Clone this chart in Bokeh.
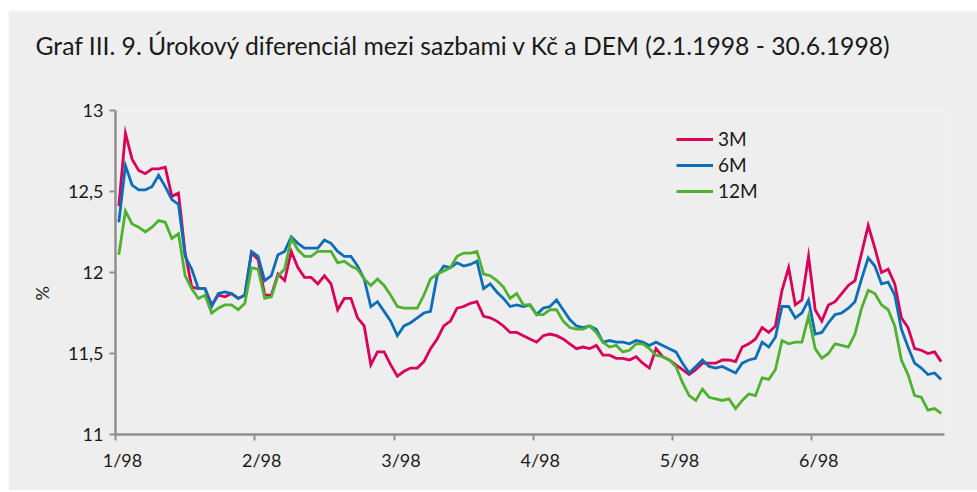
from bokeh.plotting import figure
from bokeh.models import (Range1d, LinearAxis, FixedTicker, Legend, Title,
                          LegendItem, CustomJSTickFormatter, ColumnDataSource)
from bokeh.embed import file_html
from bokeh.resources import INLINE

# ---------------- data (business days 2.1.1998 - 30.6.1998) ----------------
month_labels = ["1/98", "2/98", "3/98", "4/98", "5/98", "6/98"]
month_start_index = [0, 21, 42, 63, 84, 105]

m3 = [12.41, 12.86, 12.70, 12.63, 12.61, 12.64, 12.64, 12.65, 12.47, 12.49,
      12.12, 11.91, 11.90, 11.90, 11.80, 11.86, 11.85, 11.87, 11.84, 11.86,
      12.12, 12.08, 11.86, 11.86, 11.99,
      11.95, 12.13, 12.03, 11.97, 11.97, 11.93, 11.98, 11.93, 11.77, 11.84,
      11.84, 11.72, 11.67, 11.43, 11.51, 11.51, 11.43, 11.36, 11.39, 11.41,
      11.41, 11.45, 11.53, 11.59, 11.67,
      11.70, 11.78, 11.79, 11.81, 11.82, 11.73, 11.72, 11.70, 11.67, 11.63,
      11.63, 11.61, 11.59, 11.57, 11.61, 11.62, 11.61, 11.59, 11.56, 11.53,
      11.54, 11.53, 11.55, 11.49, 11.49,
      11.47, 11.47, 11.46, 11.48, 11.44, 11.41, 11.53, 11.48, 11.46, 11.43,
      11.40, 11.37, 11.40, 11.44, 11.44, 11.44, 11.46, 11.46, 11.45, 11.54,
      11.56, 11.59, 11.66, 11.63, 11.67,
      11.89, 12.03, 11.80, 11.83, 12.10, 11.77, 11.70, 11.80, 11.82, 11.87,
      11.92, 11.95, 12.12, 12.29, 12.15, 12.00, 12.02, 11.93, 11.72, 11.66,
      11.53, 11.52, 11.50, 11.51, 11.45]

m6 = [12.31, 12.66, 12.54, 12.51, 12.51, 12.53, 12.60, 12.53, 12.45, 12.42,
      12.10, 12.02, 11.90, 11.90, 11.79, 11.87, 11.88, 11.87, 11.84, 11.86,
      12.13, 12.10, 11.95, 11.98, 12.11,
      12.13, 12.22, 12.18, 12.15, 12.15, 12.15, 12.20, 12.18, 12.13, 12.10,
      12.10, 12.04, 11.96, 11.79, 11.82, 11.76, 11.70, 11.61, 11.67, 11.69,
      11.72, 11.75, 11.76, 11.98, 12.04,
      12.03, 12.06, 12.04, 12.05, 12.07, 11.90, 11.93, 11.88, 11.84, 11.79,
      11.80, 11.79, 11.80, 11.74, 11.78, 11.79, 11.83, 11.77, 11.71, 11.67,
      11.66, 11.67, 11.65, 11.57, 11.58,
      11.57, 11.57, 11.56, 11.58, 11.57, 11.55, 11.57, 11.55, 11.53, 11.51,
      11.44, 11.38, 11.42, 11.46, 11.42, 11.41, 11.42, 11.40, 11.38, 11.44,
      11.46, 11.47, 11.57, 11.54, 11.60,
      11.79, 11.79, 11.72, 11.75, 11.83, 11.62, 11.63, 11.69, 11.74, 11.75,
      11.78, 11.82, 11.96, 12.09, 12.04, 11.93, 11.94, 11.86, 11.65, 11.54,
      11.44, 11.41, 11.37, 11.38, 11.34]

m12 = [12.11, 12.38, 12.30, 12.28, 12.25, 12.28, 12.32, 12.31, 12.21, 12.24,
       11.98, 11.90, 11.84, 11.86, 11.75, 11.78, 11.80, 11.80, 11.77, 11.81,
       12.03, 12.02, 11.84, 11.85, 11.98,
       12.02, 12.21, 12.14, 12.10, 12.10, 12.13, 12.13, 12.13, 12.06, 12.07,
       12.04, 12.02, 11.96, 11.92, 11.96, 11.92, 11.86, 11.79, 11.78, 11.78,
       11.78, 11.86, 11.96, 11.99, 12.01,
       12.03, 12.10, 12.12, 12.12, 12.13, 11.99, 11.98, 11.95, 11.91, 11.84,
       11.87, 11.80, 11.80, 11.74, 11.74, 11.77, 11.77, 11.70, 11.66, 11.65,
       11.65, 11.67, 11.63, 11.57, 11.54,
       11.55, 11.51, 11.52, 11.56, 11.56, 11.53, 11.49, 11.48, 11.46, 11.42,
       11.32, 11.24, 11.21, 11.28, 11.23, 11.22, 11.21, 11.22, 11.16, 11.21,
       11.25, 11.24, 11.35, 11.34, 11.40,
       11.58, 11.56, 11.57, 11.57, 11.73, 11.53, 11.47, 11.50, 11.56, 11.55,
       11.54, 11.62, 11.78, 11.89, 11.87, 11.80, 11.77, 11.67, 11.46, 11.37,
       11.24, 11.23, 11.15, 11.16, 11.13]

y_ticks = [11, 11.5, 12, 12.5, 13]
series_names = ["3M", "6M", "12M"]
series_colors = ["#d8005a", "#0a6fb6", "#4fb130"]

title_text = "Graf III. 9. Úrokový diferenciál mezi sazbami v Kč a DEM (2.1.1998 - 30.6.1998)"
unit_text = "%"

# ---------------- figure ----------------
n = len(m3)
x = [i + 0.5 for i in range(n)]  # category centres
src = ColumnDataSource(dict(x=x, m3=m3, m6=m6, m12=m12))

BG = "#eeeeee"
AX = "#8f8f8f"
FONT = "Lato"
TXT = "#1a1a1a"

p = figure(width=969, height=480, x_range=Range1d(0, n), y_range=Range1d(11, 13),
           output_backend="svg", toolbar_location=None,
           x_axis_location=None, y_axis_location=None, title=None,
           min_border_left=107, min_border_right=33,
           min_border_top=100, min_border_bottom=56)
p.margin = (10, 0, 2, 8)
p.background_fill_color = BG
p.border_fill_color = BG
p.outline_line_color = None
p.xgrid.visible = False
p.ygrid.visible = False

# y axis
yaxis = LinearAxis(ticker=FixedTicker(ticks=y_ticks),
                   formatter=CustomJSTickFormatter(code="return tick.toString().replace('.', ',');"))
# x axis with tick marks at month boundaries
xaxis = LinearAxis(ticker=FixedTicker(ticks=month_start_index),
                   formatter=CustomJSTickFormatter(code="return '';"))
# x axis carrying month labels (slightly right of the tick marks)
xlab = LinearAxis(ticker=FixedTicker(ticks=[t + 1.05 for t in month_start_index]),
                  formatter=CustomJSTickFormatter(args=dict(labels=month_labels),
                                                  code="return labels[Math.round((tick - 1.05) / 21)];"))

for ax in (yaxis, xaxis, xlab):
    ax.axis_line_color = AX
    ax.axis_line_width = 2.5
    ax.major_tick_line_color = AX
    ax.major_tick_line_width = 2
    ax.major_tick_out = 6
    ax.major_tick_in = 0
    ax.minor_tick_line_color = None
    ax.major_label_text_font = FONT
    ax.major_label_text_font_size = "18px"
    ax.major_label_text_color = TXT

yaxis.major_label_standoff = 6
xaxis.major_label_standoff = 0
xlab.axis_line_color = None
xlab.major_tick_line_color = None
xlab.major_label_standoff = 2

p.add_layout(yaxis, "left")
p.add_layout(xaxis, "below")
p.add_layout(xlab, "below")

# lines
renderers = []
for key, col in zip(["m3", "m6", "m12"], series_colors):
    r = p.line("x", key, source=src, line_color=col, line_width=2.8, line_join="miter")
    renderers.append(r)

legend = Legend(items=[LegendItem(label=nm, renderers=[r]) for nm, r in zip(series_names, renderers)],
                location=(561, 232), orientation="vertical",
                glyph_width=37, glyph_height=20, label_height=20, spacing=3,
                label_standoff=5, padding=0, margin=0,
                background_fill_alpha=0, border_line_alpha=0,
                label_text_font=FONT, label_text_font_size="19px", label_text_color=TXT)
p.add_layout(legend)

# spacer between frame and title (nearest the frame), then the title
spacer = Title(text=" ", standoff=10, text_font=FONT, text_font_size="18px")
p.add_layout(spacer, "above")
title = Title(text=title_text, align="left", offset=-80, standoff=33,
              text_font=FONT, text_font_size="24.7px", text_font_style="normal",
              text_color=TXT)
p.add_layout(title, "above")

# unit label on the left side
unit = Title(text=unit_text, align="left", offset=134, standoff=26,
             text_font=FONT, text_font_size="18px", text_font_style="normal",
             text_color=TXT)
p.add_layout(unit, "left")

open("out.html", "w").write(file_html(p, INLINE))
